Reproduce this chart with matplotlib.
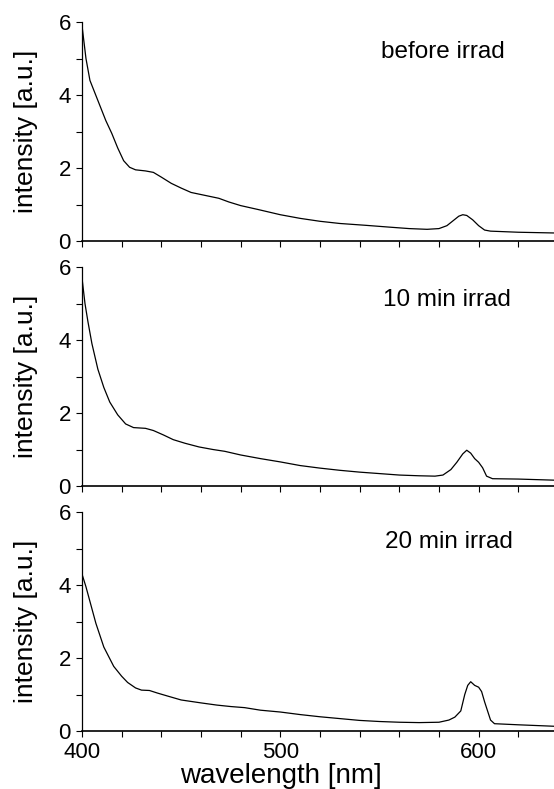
import matplotlib
matplotlib.use('Agg')
import matplotlib.pyplot as plt
import numpy as np

plt.rcParams['font.family'] = ['Liberation Sans', 'DejaVu Sans']

# spectrum before irradiation
wl_0 = [400, 402, 404, 408, 412, 415, 418, 421, 424, 427, 432, 436, 440, 445, 450, 455,
        462, 469, 474, 480, 489, 500, 510, 520, 530, 543, 555, 565, 574, 580, 584, 587,
        590, 592, 594, 597, 600, 603, 606, 620, 638]
int_0 = [5.9, 5.0, 4.4, 3.85, 3.3, 2.95, 2.55, 2.2, 2.02, 1.95, 1.92, 1.88, 1.75, 1.58, 1.45, 1.33,
         1.25, 1.17, 1.07, 0.97, 0.86, 0.72, 0.62, 0.54, 0.48, 0.43, 0.38, 0.34, 0.32, 0.34, 0.42, 0.55,
         0.68, 0.72, 0.70, 0.58, 0.42, 0.30, 0.27, 0.24, 0.22]

# 10 min irradiation
wl_10 = [400, 401.5, 403, 405, 408, 411, 414, 418, 422, 426, 432, 436, 441, 446, 452, 459,
         466, 472, 480, 490, 500, 510, 520, 530, 540, 550, 560, 570, 578, 582, 586, 589,
         592, 594, 596, 598, 600, 602, 604, 607, 620, 638]
int_10 = [5.7, 5.0, 4.5, 3.9, 3.2, 2.7, 2.3, 1.95, 1.7, 1.6, 1.58, 1.52, 1.4, 1.27, 1.17, 1.07,
          1.0, 0.95, 0.85, 0.75, 0.66, 0.56, 0.49, 0.43, 0.38, 0.34, 0.30, 0.28, 0.27, 0.30, 0.45, 0.65,
          0.88, 0.98, 0.90, 0.75, 0.65, 0.50, 0.27, 0.20, 0.19, 0.16]

# 20 min irradiation
wl_20 = [400, 402, 404, 407, 411, 416, 420, 423, 427, 430, 434, 438, 443, 450, 460, 468,
         475, 482, 490, 500, 510, 520, 530, 540, 550, 560, 570, 580, 585, 588, 591, 593,
         594.5, 596, 598, 600, 601.5, 603, 604.5, 606, 608, 620, 638]
int_20 = [4.3, 3.95, 3.55, 2.95, 2.3, 1.77, 1.5, 1.33, 1.18, 1.12, 1.11, 1.04, 0.96, 0.85, 0.77, 0.71,
          0.67, 0.64, 0.57, 0.52, 0.45, 0.39, 0.34, 0.29, 0.26, 0.24, 0.23, 0.24, 0.30, 0.38, 0.55, 1.0,
          1.25, 1.35, 1.25, 1.20, 1.08, 0.80, 0.55, 0.30, 0.20, 0.17, 0.13]

labels = ['before irrad', '10 min irrad', '20 min irrad']
label_x = [582, 584, 585]
label_y = [5.18, 5.1, 5.18]
spectra = [(wl_0, int_0), (wl_10, int_10), (wl_20, int_20)]

fig = plt.figure(figsize=(5.54, 7.89), dpi=100)

W, H = 554.0, 789.0
left = 82 / W
bottoms = [1 - 241 / H, 1 - 486 / H, 1 - 731 / H]
height = 219 / H

for i, (wl, inten) in enumerate(spectra):
    ax = fig.add_axes([left, bottoms[i], 1 - left, height])
    ax.plot(wl, inten, color='black', lw=0.9)
    ax.set_xlim(400, 638)
    ax.set_ylim(0, 6)
    ax.spines['top'].set_visible(False)
    ax.spines['right'].set_visible(False)
    ax.spines['left'].set_linewidth(0.9)
    ax.spines['bottom'].set_linewidth(1.2)
    ax.set_yticks([0, 2, 4, 6])
    ax.set_yticks([1, 3, 5], minor=True)
    ax.set_xticks([400, 500, 600])
    ax.set_xticks(np.arange(420, 640, 20), minor=True)
    ax.tick_params(axis='both', which='both', direction='out', length=4, width=0.8,
                   labelsize=16, pad=4)
    ax.set_ylabel('intensity [a.u.]', fontsize=19, va='center')
    ax.yaxis.set_label_coords(-0.118, 0.5)
    ax.text(label_x[i], label_y[i], labels[i], ha='center', va='center', fontsize=17.5)
    if i < 2:
        ax.set_xticklabels([])
    else:
        ax.set_xlabel('wavelength [nm]', fontsize=20, va='center')
        ax.xaxis.set_label_coords(0.4216, -0.205)

plt.savefig('out.png', dpi=100)
